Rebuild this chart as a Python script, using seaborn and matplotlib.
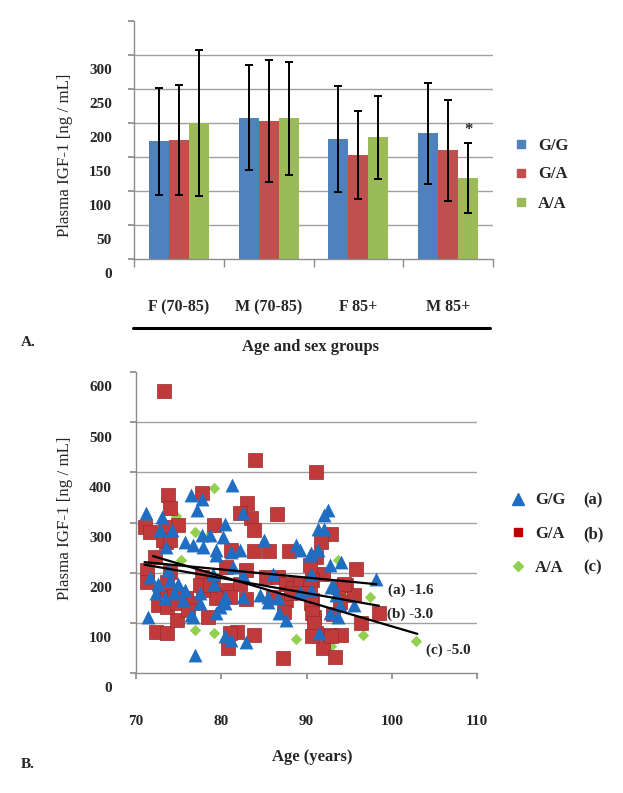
import numpy as np
import pandas as pd
import matplotlib
matplotlib.use("Agg")
import matplotlib.pyplot as plt
import seaborn as sns
from matplotlib.lines import Line2D
from matplotlib.transforms import ScaledTranslation, blended_transform_factory

### DATA ###
groups = ["F (70-85)", "M (70-85)", "F 85+", "M 85+"]
genotypes = ["G/G", "G/A", "A/A"]
mean_gg = [173, 208, 176, 185]
mean_ga = [175, 203, 153, 160]
mean_aa = [200, 207, 179, 119]
sd_gg = [79, 77, 78, 74]
sd_ga = [81, 90, 65, 74]
sd_aa = [107, 83, 61, 51]
bar_ticks = [0, 50, 100, 150, 200, 250, 300, 350]
bar_grid = [50, 100, 150, 200, 250, 300]

gg_age = [81.3, 76.5, 77.8, 77.1, 71.2, 73.0, 72.8, 74.2, 73.5, 75.7, 76.7, 77.9, 78.7, 79.4,
          80.4, 80.2, 82.5, 81.2, 82.2, 85.0, 88.8, 90.5, 71.6, 71.4, 72.6, 73.8, 74.0, 74.9,
          75.7, 76.7, 77.5, 79.0, 79.4, 79.8, 80.4, 81.4, 82.5, 82.5, 84.5, 85.5, 86.6, 86.8,
          87.6, 86.1, 76.9, 80.4, 81.2, 82.9, 91.4, 92.0, 92.5, 91.3, 92.1, 89.2, 90.4, 92.7,
          94.1, 90.5, 90.5, 93.1, 93.5, 92.7, 93.9, 95.6, 98.2, 91.5, 89.2, 92.9, 93.7, 85.5,
          77.7, 72.4, 73.4, 74.4, 75.5, 77.5, 76.5, 80.4, 79.4, 79.2]
gg_igf = [375, 355, 347, 325, 318, 311, 285, 285, 252, 262, 255, 252, 275, 245,
          298, 272, 318, 242, 245, 265, 255, 240, 192, 112, 178, 205, 185, 178,
          165, 112, 159, 198, 235, 132, 152, 212, 152, 195, 155, 152, 149, 119,
          106, 198, 36, 73, 66, 62, 245, 315, 325, 288, 288, 245, 235, 215,
          222, 198, 165, 175, 155, 119, 135, 135, 188, 79, 162, 172, 112, 142,
          275, 159, 149, 159, 145, 139, 116, 139, 119, 178]

ga_age = [73.3, 84.0, 73.8, 74.0, 71.1, 71.6, 73.5, 74.9, 77.7, 79.1, 83.0, 83.5, 83.9, 86.5,
          83.9, 85.6, 88.0, 91.1, 72.2, 71.3, 71.3, 74.0, 72.8, 73.6, 72.4, 73.6, 74.8, 75.9,
          78.5, 77.7, 79.0, 79.8, 80.8, 79.4, 80.8, 81.8, 83.9, 81.2, 80.6, 82.9, 85.3, 86.6,
          87.6, 86.1, 82.9, 87.6, 88.4, 89.2, 87.3, 77.9, 76.7, 75.1, 74.4, 82.2,
          92.9, 91.7, 91.1, 95.8, 91.9, 94.6, 95.6, 98.5, 96.4, 90.7, 90.9, 91.1, 92.7, 94.1,
          91.9, 93.3, 93.7, 93.9, 93.1, 90.7, 90.4, 90.4, 90.0, 90.5, 90.7, 90.9, 90.7, 92.9,
          88.2, 87.4, 94.4, 73.4, 73.2, 74.0, 73.6, 72.6, 73.6, 74.8, 77.5, 78.7, 76.1, 81.0,
          81.0, 82.2]
ga_igf = [562, 424, 355, 328, 291, 281, 262, 295, 358, 295, 339, 308, 285, 317,
          243, 243, 243, 401, 232, 205, 182, 202, 152, 152, 82, 80, 106, 149,
          112, 192, 178, 155, 165, 149, 49, 82, 76, 245, 212, 205, 192, 192,
          178, 152, 148, 145, 169, 178, 29, 165, 139, 158, 155, 178,
          278, 262, 232, 208, 198, 175, 155, 120, 99, 145, 112, 79, 76, 76,
          49, 32, 172, 142, 118, 185, 172, 215, 159, 139, 119, 99, 73, 73,
          159, 122, 178, 291, 265, 265, 182, 135, 132, 139, 175, 175, 125, 152,
          79, 318]

aa_age = [79.1, 74.7, 76.9, 75.3, 78.3, 76.9, 79.1, 88.8, 94.2, 92.9, 93.7, 97.4, 96.6, 102.8,
          92.3, 85.3]
aa_igf = [368, 313, 281, 225, 272, 86, 79, 67, 159, 53, 225, 152, 76, 63,
          56, 146]

# trend line end points (a), (b), (c)
reg_x = [[71.0, 98.2], [71.0, 98.5], [72.0, 103.0]]
reg_y = [[221, 177], [216, 134], [233, 78]]
reg_labels = ["(a) -1.6", "(b) -3.0", "(c) -5.0"]
age_ticks = [70, 80, 90, 100, 110]
igf_ticks = [0, 100, 200, 300, 400, 500, 600]
igf_grid = [100, 200, 300, 400, 500]

### STYLE ###
sns.set_theme(style="white")
plt.rcParams["font.family"] = ["Liberation Serif", "DejaVu Serif"]
plt.rcParams["font.weight"] = "bold"

bar_colors = ["#4F81BD", "#C0504D", "#9BBB59"]
grid_col = "#A0A0A0"
spine_col = "#8C8C8C"

W, H = 623, 793
def fx(px):
    return px / W
def fy(py):
    return 1 - py / H

fig = plt.figure(figsize=(W / 100, H / 100), dpi=100)

################! A. bar chart !################
ax1 = fig.add_axes([fx(134), fy(259), (493 - 134) / W, (259 - 21) / H])
bars = pd.DataFrame({
    "group": groups * 3,
    "genotype": np.repeat(genotypes, len(groups)),
    "value": mean_gg + mean_ga + mean_aa,
    "sd": sd_gg + sd_ga + sd_aa,
})
for v in bar_grid:
    ax1.axhline(v, color=grid_col, lw=1, zorder=0)
sns.barplot(data=bars, x="group", y="value", hue="genotype", order=groups,
            hue_order=genotypes, palette=bar_colors, width=2 / 3, saturation=1,
            errorbar=None, linewidth=0, legend=False, ax=ax1, zorder=2)

offs = (np.arange(3) - 1) * (2 / 9)
for j, g in enumerate(genotypes):
    sub = bars[bars["genotype"] == g]
    ax1.errorbar(np.arange(len(groups)) + offs[j], sub["value"], yerr=sub["sd"],
                 fmt="none", ecolor="black", elinewidth=1.4, capsize=2.8, capthick=1.4,
                 zorder=4)
sub = bars[bars["genotype"] == "A/A"]
ax1.text(3 + offs[2], sub["value"].iloc[3] + sub["sd"].iloc[3] + 8, "*",
         ha="center", va="bottom", fontsize=12)

ax1.set_xlim(-0.5, 3.5)
ax1.set_ylim(0, 350)
ax1.set_xticks(np.arange(-0.5, 4, 1), labels=[""] * 5)
ax1.set_xticks(range(len(groups)), labels=groups, minor=True)
ax1.tick_params(axis="x", which="major", bottom=True, length=6, color=spine_col, width=1)
ax1.tick_params(axis="x", which="minor", bottom=True, length=0, pad=29, labelsize=11.5)
ax1.set_yticks(bar_ticks)
ax1.tick_params(axis="y", left=True, length=4, color=spine_col, labelleft=False)
ax1.set_xlabel("")
ax1.set_ylabel("")
sns.despine(ax=ax1)
for s in ["left", "bottom"]:
    ax1.spines[s].set_color(spine_col)
    ax1.spines[s].set_linewidth(1)

tr = blended_transform_factory(ax1.transAxes, ax1.transData) + \
    ScaledTranslation(-0.22, -0.16, fig.dpi_scale_trans)
for v in bar_ticks[:-1]:
    ax1.text(0, v, str(v), transform=tr, ha="right", va="center", fontsize=11)

leg_h = [Line2D([], [], marker="s", ls="none", color=c, markersize=6) for c in bar_colors]
ax1.legend(leg_h, genotypes, loc="center left", bbox_to_anchor=(fx(514), fy(174.5)),
           bbox_transform=fig.transFigure, frameon=False, handlelength=0.8,
           handletextpad=0.65, labelspacing=0.78, borderpad=0, borderaxespad=0,
           fontsize=12)

fig.text(fx(65), fy(155), "Plasma IGF-1 [ng / mL]", rotation=90, ha="center",
         va="center", fontsize=12.2, fontweight="normal")
fig.add_artist(Line2D([fx(133), fx(490)], [fy(328), fy(328)], color="black", lw=2.2))
fig.text(fx(311), fy(347), "Age and sex groups", ha="center", va="center", fontsize=12)
fig.text(fx(21), fy(343), "A.", ha="left", va="center", fontsize=11)

################! B. scatter !################
ax2 = fig.add_axes([fx(136), fy(673), (477 - 136) / W, (673 - 372) / H])
for v in igf_grid:
    ax2.axhline(v, color=grid_col, lw=1, zorder=0)
sns.scatterplot(x=aa_age, y=aa_igf, marker="D", color="#92D050", s=34, linewidth=0,
                ax=ax2, zorder=3)
sns.scatterplot(x=ga_age, y=ga_igf, marker="s", color="#C0393B", s=95,
                edgecolor="#9A2A2B", linewidth=0.5, ax=ax2, zorder=4)
sns.scatterplot(x=gg_age, y=gg_igf, marker="^", color="#1F6EC1", s=100, linewidth=0,
                ax=ax2, zorder=5)
for i in range(3):
    ax2.plot(reg_x[i], reg_y[i], color="black", lw=1.6, zorder=6)
lab_off = [(8, -4), (6, -6), (6, -12)]
for i in range(3):
    ax2.annotate(reg_labels[i], xy=(reg_x[i][1], reg_y[i][1]), xytext=lab_off[i],
                 textcoords="offset points", ha="left", va="center", fontsize=11)

ax2.set_xlim(70, 110)
ax2.set_ylim(0, 600)
ax2.set_xticks(age_ticks)
ax2.tick_params(axis="x", bottom=True, length=4, color=spine_col, pad=26, labelsize=11)
ax2.set_yticks(igf_ticks)
ax2.tick_params(axis="y", left=True, length=4, color=spine_col, labelleft=False)
sns.despine(ax=ax2)
for s in ["left", "bottom"]:
    ax2.spines[s].set_color(spine_col)
    ax2.spines[s].set_linewidth(1)

tr2 = blended_transform_factory(ax2.transAxes, ax2.transData) + \
    ScaledTranslation(-0.24, -0.16, fig.dpi_scale_trans)
for v in igf_ticks:
    ax2.text(0, v, str(v), transform=tr2, ha="right", va="center", fontsize=11)

leg2 = [Line2D([], [], marker="^", ls="none", color="#1F6EC1", markersize=8),
        Line2D([], [], marker="s", ls="none", color="#C00000", markersize=6),
        Line2D([], [], marker="D", ls="none", color="#92D050", markersize=5.5)]
leg2 += [Line2D([], [], ls="none") for _ in range(3)]
ax2.legend(leg2, genotypes + ["(a)", "(b)", "(c)"], ncol=2, loc="center left",
           bbox_to_anchor=(fx(511), fy(534)), bbox_transform=fig.transFigure,
           frameon=False, handlelength=0.8, handletextpad=0.65, labelspacing=1.05,
           columnspacing=-0.4, borderpad=0, borderaxespad=0, fontsize=12)

fig.text(fx(65), fy(518), "Plasma IGF-1 [ng / mL]", rotation=90, ha="center",
         va="center", fontsize=12.2, fontweight="normal")
fig.text(fx(312), fy(757), "Age (years)", ha="center", va="center", fontsize=12)
fig.text(fx(21), fy(765), "B.", ha="left", va="center", fontsize=11)

plt.savefig("out.png", dpi=100)
